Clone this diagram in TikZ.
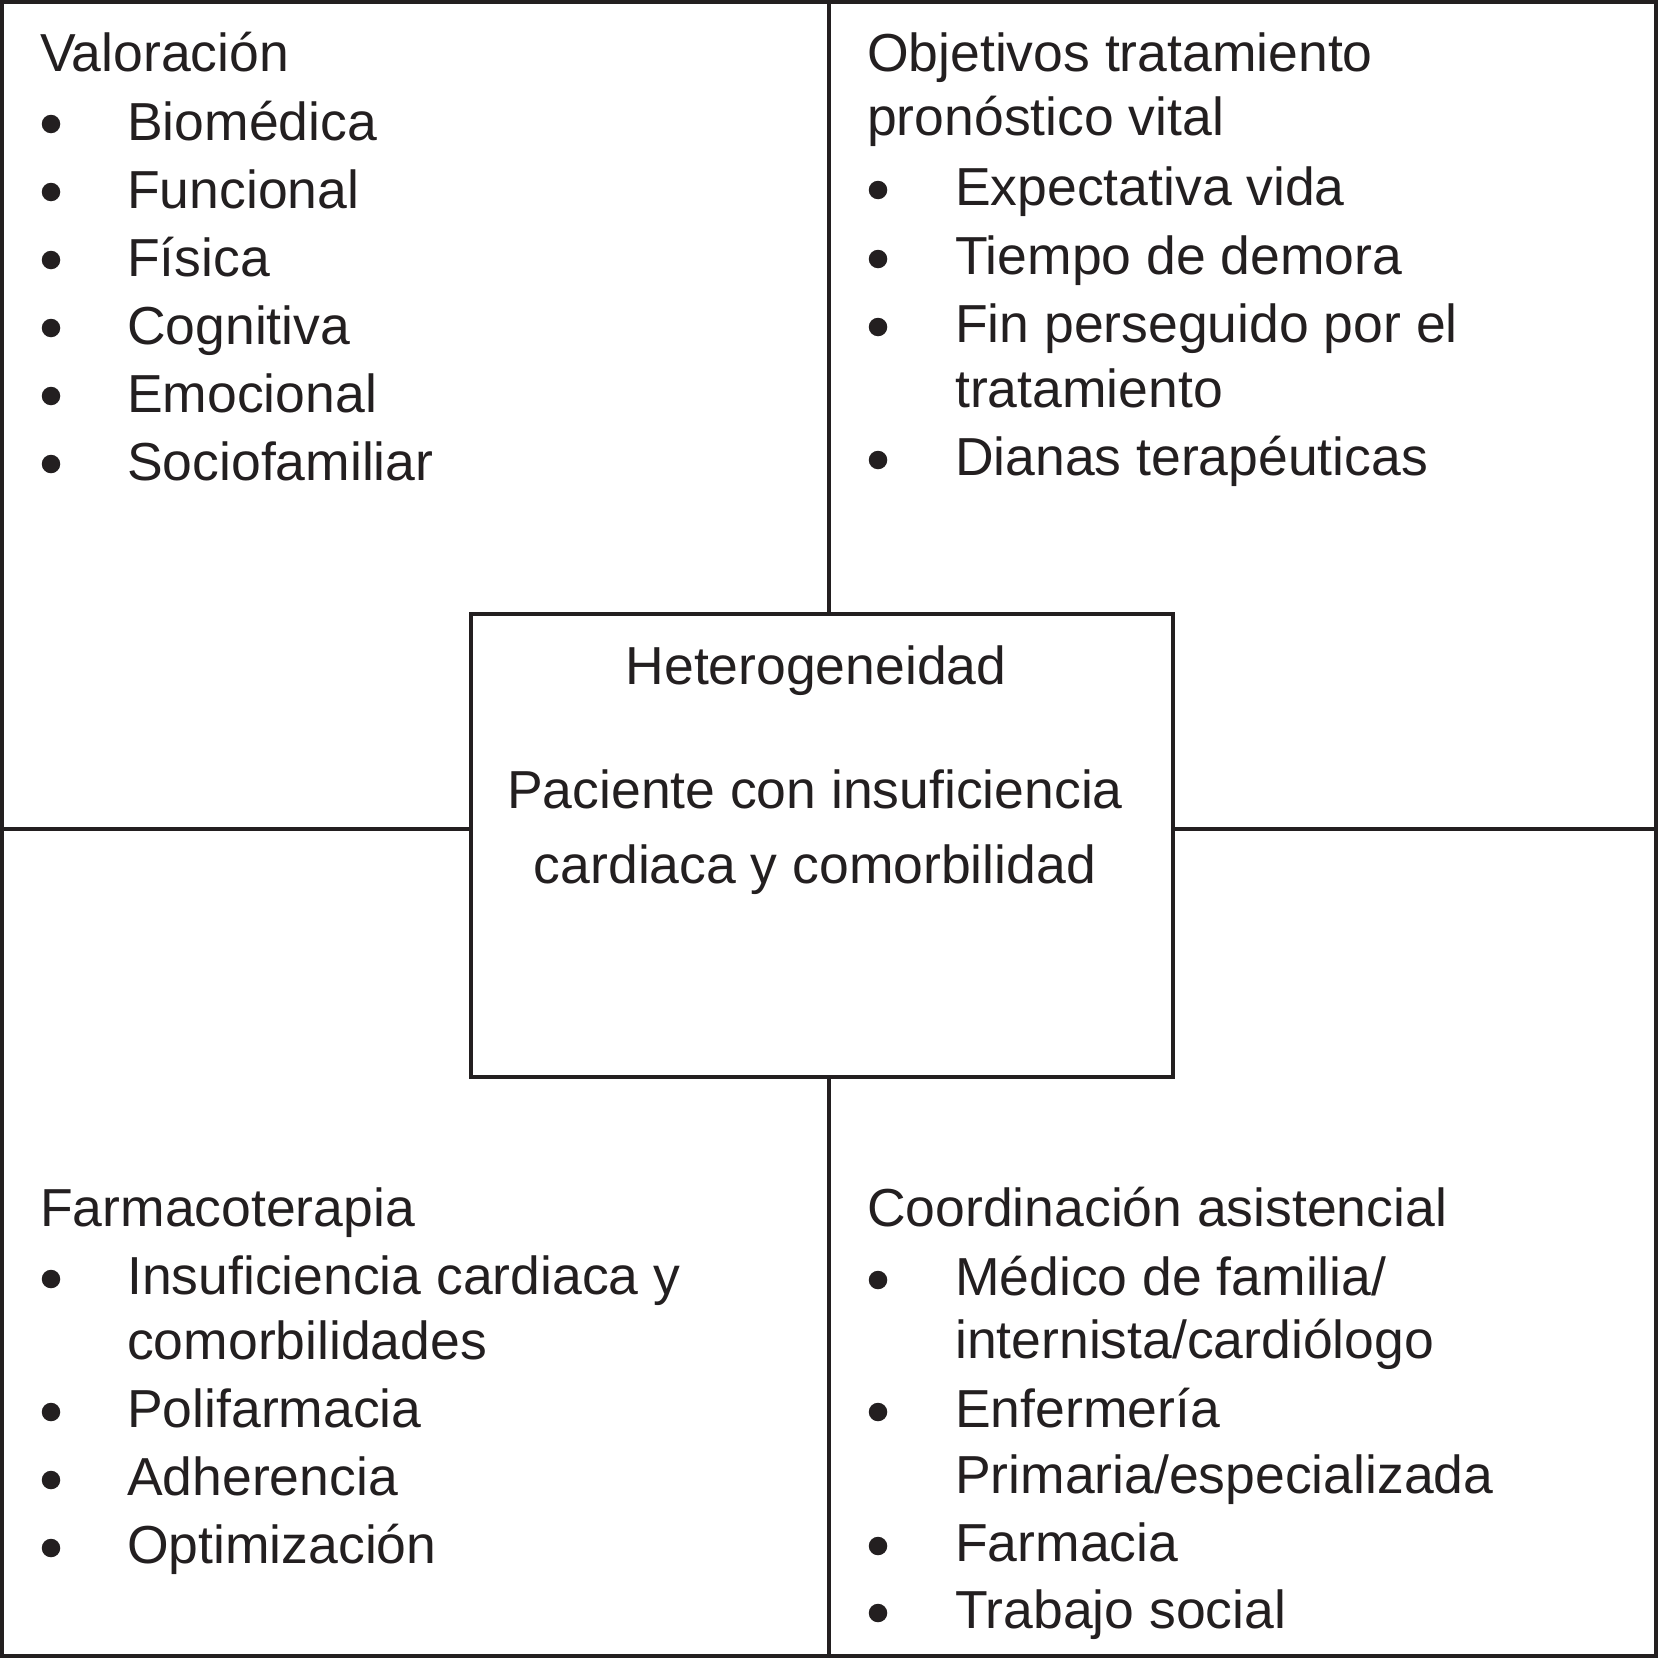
\documentclass[tikz,border=0pt]{standalone}
\usepackage{fontspec}
\setmainfont{Liberation Sans}
\definecolor{ink}{HTML}{231F20}
\tikzset{
  txt/.style={inner sep=0pt, anchor=base west, text=ink, font=\fontsize{53.5bp}{64bp}\selectfont},
  ctxt/.style={inner sep=0pt, anchor=base, text=ink, font=\fontsize{53.5bp}{64bp}\selectfont},
  bul/.style={circle, fill=ink, inner sep=0pt, minimum size=18.5bp},
  rule/.style={draw=ink, line width=3.4bp},
  frame/.style={draw=ink, line width=4.4bp},
  cbox/.style={draw=ink, line width=3.4bp, minimum width=702bp, minimum height=463bp, inner sep=0pt}
}
\begin{document}
\begin{tikzpicture}[x=1bp,y=-1bp]
\useasboundingbox (0,0) rectangle (1658,1658);
\fill[white] (0,0) rectangle (1658,1658);
% centre box
\node[cbox] (box) at (822,845.5) {};
% frame and dividing lines
\draw[frame] (2.2,2.2) rectangle (1655.8,1655.8);
\coordinate (top) at (829,0);
\coordinate (bot) at (829,1658);
\coordinate (lft) at (0,829);
\coordinate (rgt) at (1658,829);
\draw[rule] (top) -- (top |- box.north);
\draw[rule] (box.south -| bot) -- (bot);
\draw[rule] (lft) -- (lft -| box.west);
\draw[rule] (box.east |- rgt) -- (rgt);
% centre text
\node[ctxt] (het) at (816,684) {Heterogeneidad};
\node[ctxt] (pac1) at (815,808) {Paciente con insuficiencia};
\node[ctxt] (pac2) at (815,883) {cardiaca y comorbilidad};
% top-left
\node[txt] (val) at (40,72) {Valoración};
\node[bul] (b11) at (51,124) {}; \node[txt] (i11) at (127,140) {Biomédica};
\node[bul] (b12) at (51,192) {}; \node[txt] (i12) at (127,208) {Funcional};
\node[bul] (b13) at (51,260) {}; \node[txt] (i13) at (127,276) {Física};
\node[bul] (b14) at (51,328) {}; \node[txt] (i14) at (127,344) {Cognitiva};
\node[bul] (b15) at (51,396) {}; \node[txt] (i15) at (127,412) {Emocional};
\node[bul] (b16) at (51,464) {}; \node[txt] (i16) at (127,480) {Sociofamiliar};
% top-right
\node[txt] (obj1) at (867,72) {Objetivos tratamiento};
\node[txt] (obj2) at (867,135) {pronóstico vital};
\node[bul] (b21) at (878,190) {}; \node[txt] (i21) at (955,205) {Expectativa vida};
\node[bul] (b22) at (878,259) {}; \node[txt] (i22) at (955,274) {Tiempo de demora};
\node[bul] (b23) at (878,327) {}; \node[txt] (i23) at (955,342) {Fin perseguido por el};
\node[txt] (i23b) at (955,407) {tratamiento};
\node[bul] (b24) at (878,460) {}; \node[txt] (i24) at (955,475) {Dianas terapéuticas};
% bottom-left
\node[txt] (far) at (40,1226) {Farmacoterapia};
\node[bul] (b31) at (51,1279) {}; \node[txt] (i31) at (127,1294) {Insuficiencia cardiaca y};
\node[txt] (i31b) at (127,1359) {comorbilidades};
\node[bul] (b32) at (51,1412) {}; \node[txt] (i32) at (127,1427) {Polifarmacia};
\node[bul] (b33) at (51,1480) {}; \node[txt] (i33) at (127,1495) {Adherencia};
\node[bul] (b34) at (51,1548) {}; \node[txt] (i34) at (127,1563) {Optimización};
% bottom-right
\node[txt] (coo) at (867,1226) {Coordinación asistencial};
\node[bul] (b41) at (878,1280) {}; \node[txt] (i41) at (955,1295) {Médico de familia/};
\node[txt] (i41b) at (955,1358) {internista/cardiólogo};
\node[bul] (b42) at (878,1412) {}; \node[txt] (i42) at (955,1427) {Enfermería};
\node[txt] (i42b) at (955,1493) {Primaria/especializada};
\node[bul] (b43) at (878,1546) {}; \node[txt] (i43) at (955,1561) {Farmacia};
\node[bul] (b44) at (878,1613) {}; \node[txt] (i44) at (955,1628) {Trabajo social};
\end{tikzpicture}
\end{document}
